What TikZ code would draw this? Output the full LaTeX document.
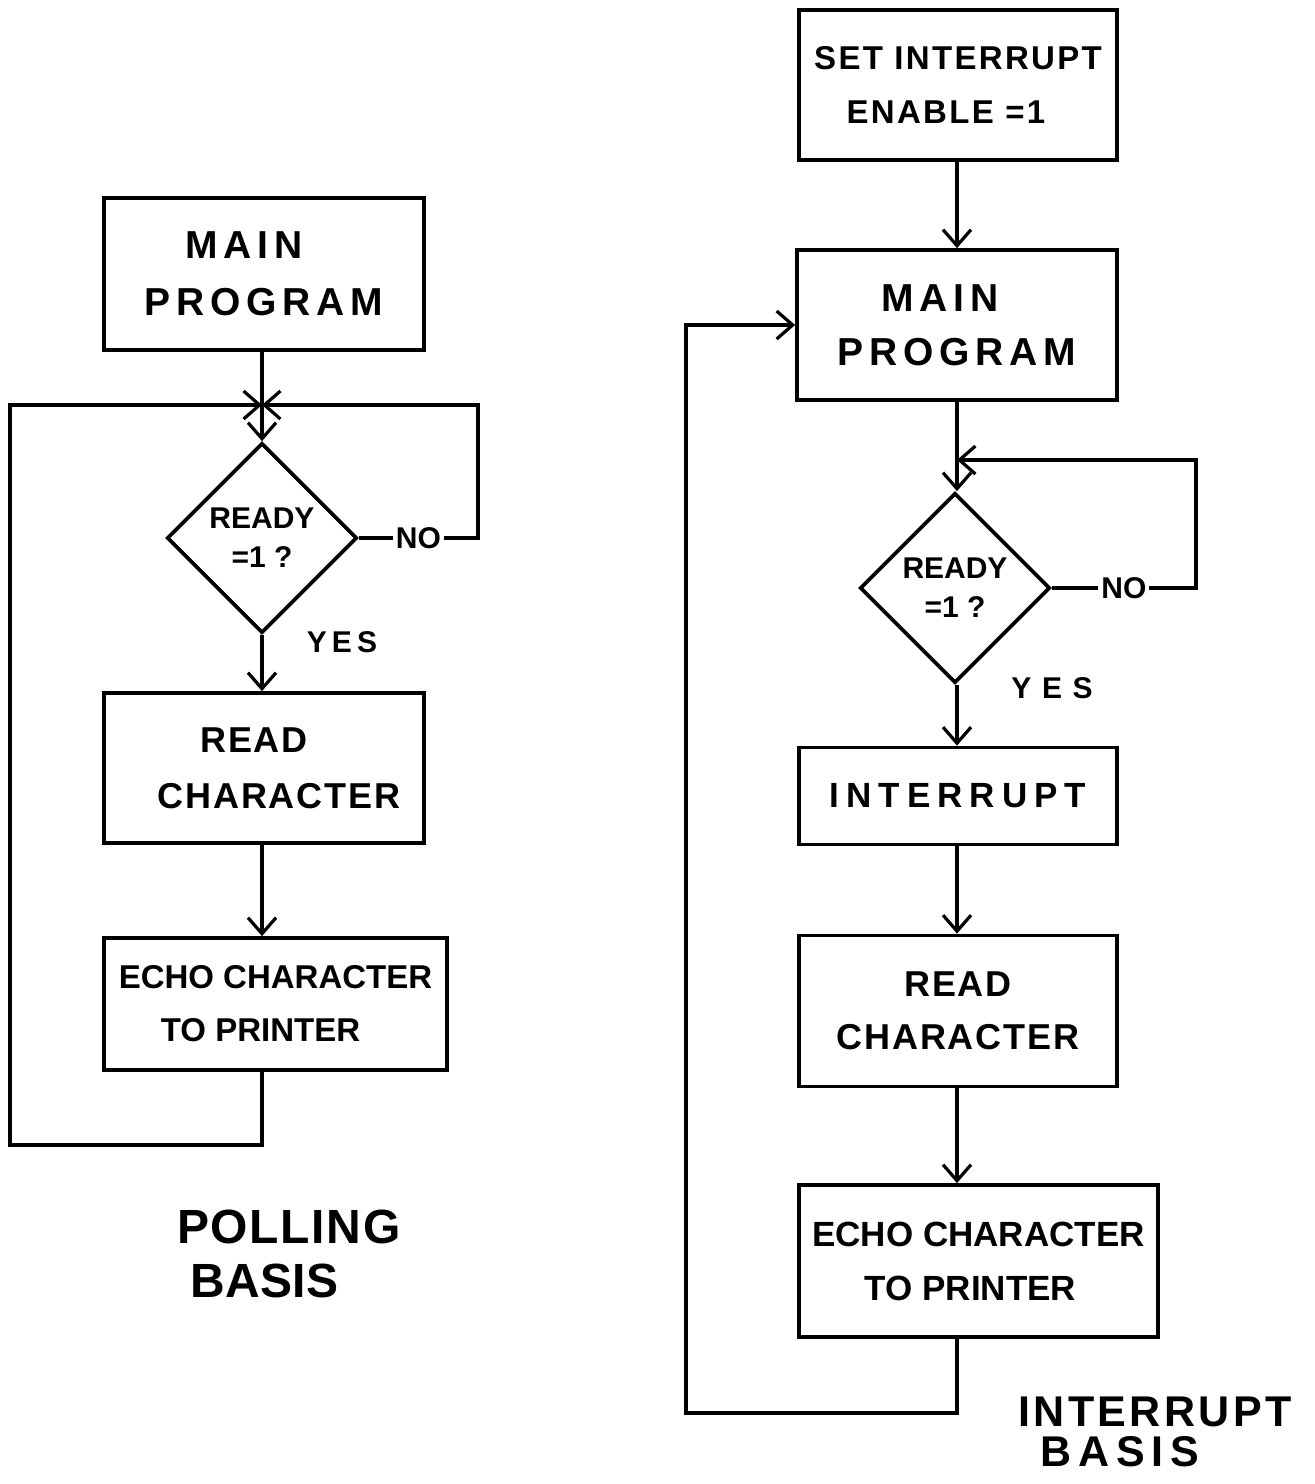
\documentclass[tikz,border=0pt]{standalone}
\usepackage{fontspec}
\setmainfont{Liberation Sans}
\usetikzlibrary{arrows.meta,shapes.geometric}
\newcommand{\fsl}[3]{\fontsize{#1}{#3}\selectfont\bfseries\addfontfeature{LetterSpace=#2}}
\tikzset{
  box/.style={draw, line width=3.8pt, align=center, inner sep=0pt},
  dec/.style={draw, diamond, line width=3.8pt, align=center, inner sep=0pt,
    minimum width=190pt, minimum height=190pt, font={\fsl{30}{0}{39}}},
  conn/.style={line width=3.2pt},
  arr/.style={conn, -{Straight Barb[length=16pt,width=28pt,line width=3.2pt]}},
  lbl/.style={inner sep=3pt},
  title/.style={inner sep=0pt, text depth=0pt}
}
\begin{document}
\begin{tikzpicture}[x=1pt,y=-1pt]
\useasboundingbox (0,0) rectangle (1315,1484);
% ---------------- left: polling ----------------
\node[box, minimum width=320pt, minimum height=152pt, font={\fsl{39}{15}{57}}] (mainL) at (264,274) {MAIN\hspace*{40pt}\\PROGRAM};
\node[dec] (dL) at (262,538) {READY\\=1 ?};
\node[box, minimum width=320pt, minimum height=150pt, font={\fsl{36}{5}{56}}] (readL) at (264,768) {READ\hspace*{20pt}\\\hspace*{30pt}CHARACTER};
\node[box, minimum width=343pt, minimum height=132pt, font={\fsl{33}{0}{53}}] (echoL) at (275.5,1004) {ECHO CHARACTER\\TO PRINTER\hspace*{30pt}};
\coordinate (jL) at (262,405);
\coordinate (lb) at (262,1145);
\coordinate (ll) at (10,1145);
\coordinate (lt) at (10,405);
\coordinate (nr) at (478,538);
\coordinate (nt) at (478,405);
\draw[arr] (mainL.south -| dL) -- (dL.north);
\draw[arr] (echoL.south -| dL) -- (lb) -- (ll) -- (lt) -- (jL);
\draw[arr] (dL.east) -- node[lbl, fill=white, font={\fsl{30}{0}{36}}] (noL) {NO} (nr) -- (nt) -- (jL);
\draw[arr] (dL.south) -- (readL.north -| dL);
\draw[arr] (readL.south -| dL) -- (echoL.north -| dL);
\node[lbl, font={\fsl{30}{17}{36}}] (yesL) at (342,642) {YES};
\node[title, anchor=west, text height=34pt, font={\fsl{48}{3.5}{58}}] (polL) at (177,1226) {POLLING};
\node[title, anchor=west, text height=34pt, font={\fsl{48}{1}{58}}] (basL) at (190,1280) {BASIS};
% ---------------- right: interrupt ----------------
\node[box, minimum width=318pt, minimum height=150pt, font={\fsl{33}{7}{54}}] (setR) at (958,85) {SET INTERRUPT\\ENABLE =1\hspace*{24pt}};
\node[box, minimum width=320pt, minimum height=150pt, font={\fsl{39}{15}{54}}] (mainR) at (957,325) {MAIN\hspace*{34pt}\\PROGRAM};
\node[dec] (dR) at (955,588) {READY\\=1 ?};
\node[box, minimum width=318pt, minimum height=97pt, font={\fsl{35}{20}{40}}] (intR) at (958,796) {INTERRUPT};
\node[box, minimum width=318pt, minimum height=151pt, font={\fsl{36}{5}{53}}] (readR) at (958,1011) {READ\\CHARACTER};
\node[box, minimum width=359pt, minimum height=152pt, font={\fsl{35}{0}{54}}] (echoR) at (978.5,1261) {ECHO CHARACTER\\TO PRINTER\hspace*{16pt}};
\coordinate (jR) at (957,460);
\coordinate (rb) at (957,1413);
\coordinate (rl) at (686,1413);
\coordinate (rt) at (686,325);
\coordinate (rnr) at (1196,588);
\coordinate (rnt) at (1196,460);
\draw[arr] (setR.south -| jR) -- (mainR.north -| jR);
\draw[arr] (mainR.south -| jR) -- (jR |- dR.north);
\draw[arr] (dR.east) -- node[lbl, fill=white, font={\fsl{30}{0}{36}}] (noR) {NO} (rnr) -- (rnt) -- (jR);
\draw[arr] (jR |- dR.south) -- (intR.north -| jR);
\draw[arr] (intR.south -| jR) -- (readR.north -| jR);
\draw[arr] (readR.south -| jR) -- (echoR.north -| jR);
\draw[arr] (echoR.south -| jR) -- (rb) -- (rl) -- (rt) -- (mainR.west);
\node[lbl, font={\fsl{30}{35}{36}}] (yesR) at (1052,688) {YES};
\node[title, anchor=west, text height=31pt, font={\fsl{43}{8}{52}}] (intT) at (1018,1411) {INTERRUPT};
\node[title, anchor=west, text height=31pt, font={\fsl{43}{16}{52}}] (basR) at (1040,1451) {BASIS};
\end{tikzpicture}
\end{document}
